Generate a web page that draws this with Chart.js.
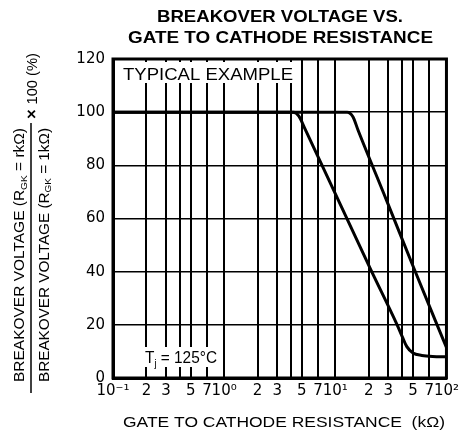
<!DOCTYPE html>
<html>
<head>
<meta charset="utf-8">
<script src="https://cdn.jsdelivr.net/npm/chart.js@4.4.1/dist/chart.umd.min.js"></script>
<style>
  body { margin: 0; background: #fff; }
  canvas { display: block; }
</style>
</head>
<body>
<canvas id="bvChart" width="463" height="445"></canvas>
<script>
// resistance (kOhm) and breakover voltage ratio (%)
const rgkLeft = [0.1, 4.2, 4.7, 5.3, 21, 36, 40, 44, 50, 60, 75, 100];
const bvLeft = [100, 100, 98.5, 94, 40.5, 20, 15.6, 11.8, 9.4, 8.5, 8.1, 8];
const rgkRight = [0.1, 12.8, 14.4, 16, 28.8, 51.6, 79.6, 100];
const bvRight = [100, 100, 98.3, 93.3, 67, 40.7, 21.5, 11.5];

const xTickValues = [0.1, 0.2, 0.3, 0.4, 0.5, 0.7, 1, 2, 3, 4, 5, 7, 10, 20, 30, 40, 50, 70, 100];
const xTickLabels = ['10⁻¹', '2', '3', '', '5', '7', '10⁰', '2', '3', '', '5', '7', '10¹', '2', '3', '', '5', '7', '10²'];
const yTicks = [0, 20, 40, 60, 80, 100, 120];

const fontFamily = "'Liberation Sans', Arial, sans-serif";

function toPoints(xs, ys) {
    return xs.map((x, i) => ({ x: x, y: ys[i] }));
}

// draws text runs centred on (cx, cy), squeezed/stretched to a given width
function drawRuns(ctx, runs, cx, cy, width, angle) {
    let total = 0;
    runs.forEach(r => {
        ctx.font = r.font;
        r.w = ctx.measureText(r.t).width;
        total += r.w;
    });
    ctx.save();
    ctx.translate(cx, cy);
    ctx.rotate(angle || 0);
    ctx.scale(width / total, 1);
    ctx.fillStyle = '#000';
    ctx.textAlign = 'left';
    ctx.textBaseline = 'alphabetic';
    let x = -total / 2;
    runs.forEach(r => {
        ctx.font = r.font;
        ctx.fillText(r.t, x, r.base);
        x += r.w;
    });
    ctx.restore();
}

function plain(t, size, bold) {
    return { t: t, font: (bold ? 'bold ' : '') + size + 'px ' + fontFamily, base: size * 0.36 };
}

function sub(t, size, drop) {
    return { t: t, font: size + 'px ' + fontFamily, base: drop };
}

const decorPlugin = {
    id: 'decor',
    afterDraw(chart) {
        const ctx = chart.ctx;
        const a = chart.chartArea;

        // white label boxes over the grid
        ctx.save();
        ctx.fillStyle = '#fff';
        ctx.fillRect(a.left + 2, a.top + 3, 297 - a.left - 2, 83 - a.top - 3);
        ctx.fillRect(a.left + 2, 347, 221 - a.left - 2, 20);

        // heavy frame
        ctx.strokeStyle = '#000';
        ctx.lineWidth = 3;
        ctx.strokeRect(a.left, a.top, a.right - a.left, a.bottom - a.top);
        ctx.restore();

        drawRuns(ctx, [plain('TYPICAL EXAMPLE', 17)], 208, 73.5, 170);
        drawRuns(ctx, [plain('T', 16), sub('j', 10, 9), plain(' = 125°C', 16)], 181, 357.5, 72);

        // titles
        drawRuns(ctx, [plain('BREAKOVER VOLTAGE VS.', 16.5, true)], 280, 16, 246);
        drawRuns(ctx, [plain('GATE TO CATHODE RESISTANCE', 16.5, true)], 280.5, 37.5, 305);

        // x axis title
        drawRuns(ctx, [plain('GATE TO CATHODE RESISTANCE  (kΩ)', 15)], 284, 422, 322);

        // y axis title as a fraction
        const rot = -Math.PI / 2;
        drawRuns(ctx, [plain('BREAKOVER VOLTAGE (R', 14.5), sub('GK', 9.5, 7.5), plain(' = rkΩ)', 14.5)], 19, 255, 254, rot);
        drawRuns(ctx, [plain('BREAKOVER VOLTAGE (R', 14.5), sub('GK', 9.5, 7.5), plain(' = 1kΩ)', 14.5)], 43.5, 255, 254, rot);
        ctx.save();
        ctx.strokeStyle = '#000';
        ctx.lineWidth = 1.5;
        ctx.beginPath();
        ctx.moveTo(31, 123);
        ctx.lineTo(31, 393);
        ctx.stroke();
        ctx.restore();
        drawRuns(ctx, [plain('× ', 16, true), plain('100 (%)', 14)], 31.5, 86, 66, rot);
    }
};

const ctx = document.getElementById('bvChart').getContext('2d');
const bvChart = new Chart(ctx, {
    type: 'line',
    data: {
        datasets: [
            { data: toPoints(rgkLeft, bvLeft) },
            { data: toPoints(rgkRight, bvRight) }
        ]
    },
    options: {
        responsive: false,
        animation: false,
        devicePixelRatio: 1,
        layout: { padding: { top: 59, right: 16, left: 0, bottom: 0 } },
        elements: {
            line: { borderColor: '#000', borderWidth: 3, cubicInterpolationMode: 'monotone' },
            point: { radius: 0 }
        },
        plugins: {
            legend: { display: false },
            tooltip: { enabled: false },
            title: { display: false }
        },
        scales: {
            x: {
                type: 'logarithmic',
                min: 0.1,
                max: 100,
                afterBuildTicks: scale => {
                    scale.ticks = xTickValues.map(v => ({ value: v }));
                },
                afterFit: scale => { scale.height = 67; },
                grid: { color: '#000', lineWidth: 2, drawTicks: false },
                border: { display: true, color: '#000', width: 3 },
                ticks: {
                    autoSkip: false,
                    maxRotation: 0,
                    padding: 4,
                    color: '#000',
                    font: { family: "'DejaVu Sans'", size: 15 },
                    callback: (value, index) => xTickLabels[index]
                }
            },
            y: {
                min: 0,
                max: 120,
                afterBuildTicks: scale => {
                    scale.ticks = yTicks.map(v => ({ value: v }));
                },
                afterFit: scale => { scale.width = 113; },
                grid: { color: '#000', lineWidth: 1.5, drawTicks: false },
                border: { display: true, color: '#000', width: 3 },
                ticks: {
                    padding: 8,
                    color: '#000',
                    font: { family: "'DejaVu Sans'", size: 15 }
                }
            }
        }
    },
    plugins: [decorPlugin]
});
</script>
</body>
</html>
